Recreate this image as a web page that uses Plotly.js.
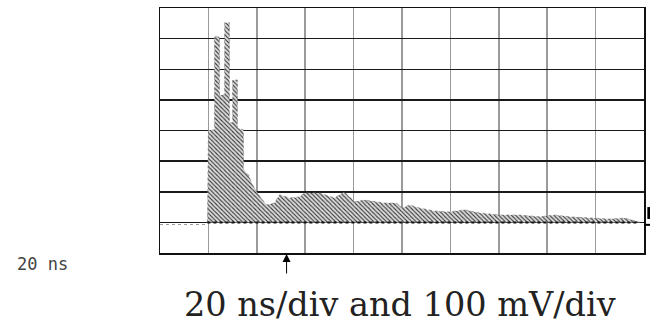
<!DOCTYPE html>
<html>
<head>
<meta charset="utf-8">
<script src="https://cdn.plot.ly/plotly-3.0.1.min.js"></script>
<style>
  html, body { margin: 0; padding: 0; background: #fff; }
  #chart { width: 650px; height: 323px; }
</style>
</head>
<body>
<div id="chart"></div>
<script>
// Time axis in ns (20 ns/div), amplitude in mV (100 mV/div)
const pulseTime = [19.6,20,22.5,22.5,24.6,24.6,26.7,26.7,28.7,28.7,30,30,32,32,34.5,34.5,36.6,37.8,39.5,41.1,44,47.3,49.4,53.5,57.6,59.7,65.9,72.1,76.2,80.4,84.5,92.8,97.7,100.2,103.1,107.2,113.4,119.6,125.8,132,140.3,148.6,156.8,163,169.2,177.5,185.7,191.9,196.1,198.1];
const pulseMv   = [0,302,302,606,606,416,416,652,652,325,325,465,465,308,302,171,155,129,106,86,57,63,90,80,83,96,96,80,99,67,73,63,63,47,57,47,37,34,41,31,24,24,18,24,18,14,11,14,5,1];
const preTime = [0, 19.5];
const preMv = [-7, -7];
const baseTime = [19.6, 198.1];
const baseMv = [0, 0];
const triggerTime = 52.3;
const captionText = "20 ns/div and 100 mV/div";
const scaleText = "20 ns";

const traces = [
  {
    x: pulseTime, y: pulseMv, type: 'scatter', mode: 'lines',
    line: {color: '#777', width: 0.6, dash: 'dot'},
    fill: 'tozeroy', fillcolor: 'rgba(170,170,170,1)',
    fillpattern: {shape: '\\', fgcolor: '#333', bgcolor: '#dcdcdc', size: 3, solidity: 0.35},
    hoverinfo: 'skip', showlegend: false
  },
  {
    x: baseTime, y: baseMv, type: 'scatter', mode: 'lines',
    line: {color: '#111', width: 2, dash: 'dot'}, hoverinfo: 'skip', showlegend: false
  },
  {
    x: preTime, y: preMv, type: 'scatter', mode: 'lines',
    line: {color: '#999', width: 1, dash: 'dot'}, hoverinfo: 'skip', showlegend: false
  }
];

const layout = {
  width: 650, height: 323,
  margin: {l: 160, r: 6, t: 8, b: 70},
  paper_bgcolor: '#fff', plot_bgcolor: '#fff',
  showlegend: false,
  xaxis: {
    range: [0, 200], dtick: 20, tick0: 0, showticklabels: false, ticks: '',
    showgrid: true, gridcolor: '#9a9a9a', gridwidth: 1.5, zeroline: false,
    showline: true, mirror: true, linecolor: '#111', linewidth: 1.5, fixedrange: true
  },
  yaxis: {
    range: [-100, 700], dtick: 100, tick0: 0, showticklabels: false, ticks: '',
    showgrid: true, gridcolor: '#1a1a1a', gridwidth: 1.5, zeroline: false,
    showline: true, mirror: true, linecolor: '#111', linewidth: 1.5, fixedrange: true
  },
  shapes: [
    {type: 'line', xref: 'x', yref: 'paper', x0: 100, x1: 100, y0: 0, y1: 1,
     line: {color: '#000', width: 1.5}, layer: 'below'},
    {type: 'line', xref: 'paper', yref: 'y', x0: 1.0, x1: 1.013, y0: -8, y1: -8,
     line: {color: '#000', width: 2}},
    {type: 'line', xref: 'paper', yref: 'y', x0: 1.01, x1: 1.01, y0: 11, y1: 50,
     line: {color: '#000', width: 3}}
  ],
  annotations: [
    {xref: 'x', yref: 'paper', x: triggerTime, y: 0, text: '', showarrow: true,
     ax: 0, ay: 22, arrowhead: 2, arrowsize: 1.6, arrowwidth: 1, arrowcolor: '#000', standoff: 1},
    {xref: 'paper', yref: 'paper', x: -0.2996, y: -0.045, xanchor: 'left', yanchor: 'middle',
     text: scaleText, showarrow: false,
     font: {family: 'DejaVu Sans Mono', size: 17, color: '#444'}},
    {xref: 'paper', yref: 'paper', x: 0.496, y: -0.21, xanchor: 'center', yanchor: 'middle',
     text: captionText, showarrow: false,
     font: {family: 'DejaVu Serif', size: 33.5, color: '#222'}}
  ]
};

Plotly.newPlot('chart', traces, layout, {staticPlot: true, displayModeBar: false});
</script>
</body>
</html>
